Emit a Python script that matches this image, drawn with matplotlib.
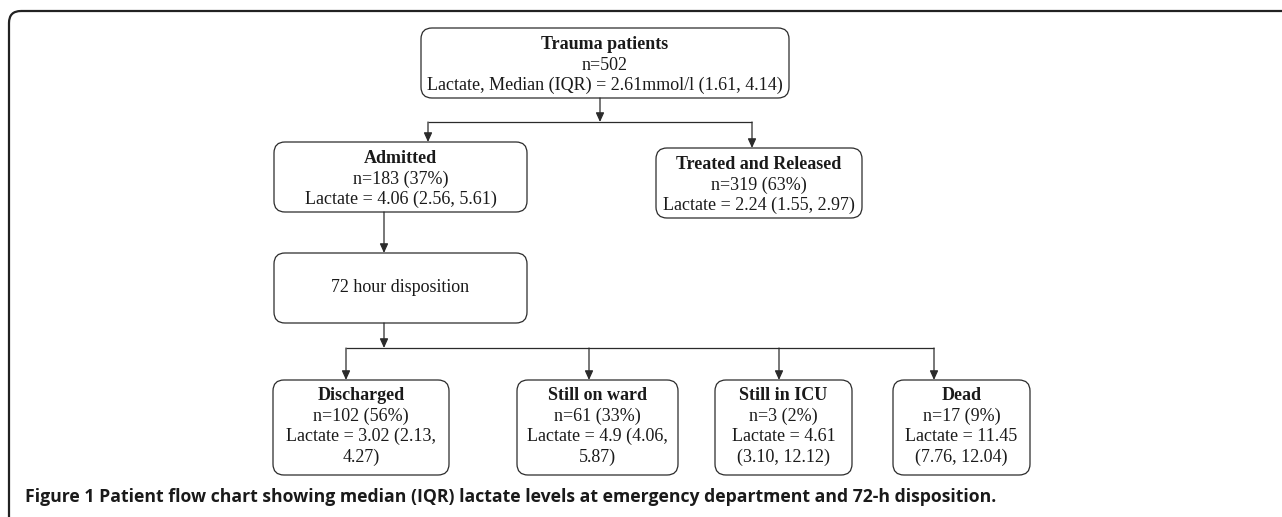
import matplotlib
matplotlib.use("Agg")
import matplotlib.pyplot as plt
from matplotlib.patches import FancyBboxPatch

# node texts (bold title first, then plain lines)
node_titles = ["Trauma patients", "Admitted", "Treated and Released", "",
               "Discharged", "Still on ward", "Still in ICU", "Dead"]
node_lines = [
    ["n=502", "Lactate, Median (IQR) = 2.61mmol/l (1.61, 4.14)"],
    ["n=183 (37%)", "Lactate = 4.06 (2.56, 5.61)"],
    ["n=319 (63%)", "Lactate = 2.24 (1.55, 2.97)"],
    ["72 hour disposition"],
    ["n=102 (56%)", "Lactate = 3.02 (2.13,", "4.27)"],
    ["n=61 (33%)", "Lactate = 4.9 (4.06,", "5.87)"],
    ["n=3 (2%)", "Lactate = 4.61", "(3.10, 12.12)"],
    ["n=17 (9%)", "Lactate = 11.45", "(7.76, 12.04)"],
]
caption = ("Figure 1 Patient flow chart showing median (IQR) lactate levels at "
           "emergency department and 72-h disposition.")

# layout in pixels: (left, top, right, bottom)
boxes = [
    (421, 28, 789, 98),
    (274, 142, 527, 212),
    (656, 148, 862, 218),
    (274, 253, 527, 323),
    (273, 380, 449, 475),
    (517, 380, 678, 475),
    (715, 380, 852, 475),
    (893, 380, 1030, 475),
]

W, H = 1282, 517
fig = plt.figure(figsize=(W / 100, H / 100), dpi=100)
ax = fig.add_axes([0, 0, 1, 1])
ax.set_xlim(0, W)
ax.set_ylim(H, 0)
ax.axis("off")

line_col = "#2b2b2b"
serif = "Liberation Serif"

# outer frame, runs past the right and bottom edges
frame = FancyBboxPatch((9, 11), W + 40, H + 40,
                       boxstyle="round,pad=0,rounding_size=12",
                       fc="none", ec="#222222", lw=1.6)
ax.add_patch(frame)

lh = 20.5
for (l, t, r, b), title, lines in zip(boxes, node_titles, node_lines):
    ax.add_patch(FancyBboxPatch((l, t), r - l, b - t,
                                boxstyle="round,pad=0,rounding_size=11",
                                fc="white", ec=line_col, lw=0.9))
    cx = (l + r) / 2
    allt = ([title] if title else []) + lines
    n = len(allt)
    cy = (t + b) / 2 + (2 if n == 3 else -1)
    y0 = cy - (n - 1) * lh / 2
    for i, s in enumerate(allt):
        bold = bool(title) and i == 0
        ax.text(cx, y0 + i * lh, s, ha="center", va="center",
                fontsize=13, family=serif, color="#1a1a1a",
                fontweight="bold" if bold else "normal")


def line(xs, ys):
    ax.plot(xs, ys, color=line_col, lw=0.9, solid_capstyle="butt")


def arrow(x, y1, y2):
    ax.annotate("", xy=(x, y2), xytext=(x, y1),
                arrowprops=dict(arrowstyle="-|>,head_length=0.55,head_width=0.25",
                                color=line_col, lw=0.9, shrinkA=0, shrinkB=0))


# top split
arrow(600, 98, 122)
line([428, 752], [122, 122])
arrow(428, 122, 142)
arrow(752, 122, 148)

# admitted -> 72h
arrow(384, 212, 253)

# 72h -> four outcomes
arrow(384, 323, 348)
line([346, 934], [348, 348])
for x in [346, 589, 779, 934]:
    arrow(x, 348, 380)

ax.text(25, 497, caption, ha="left", va="center", fontsize=12.7,
        family="Open Sans", fontweight="bold", color="#1a1a1a")

fig.savefig("out.png", dpi=100)
